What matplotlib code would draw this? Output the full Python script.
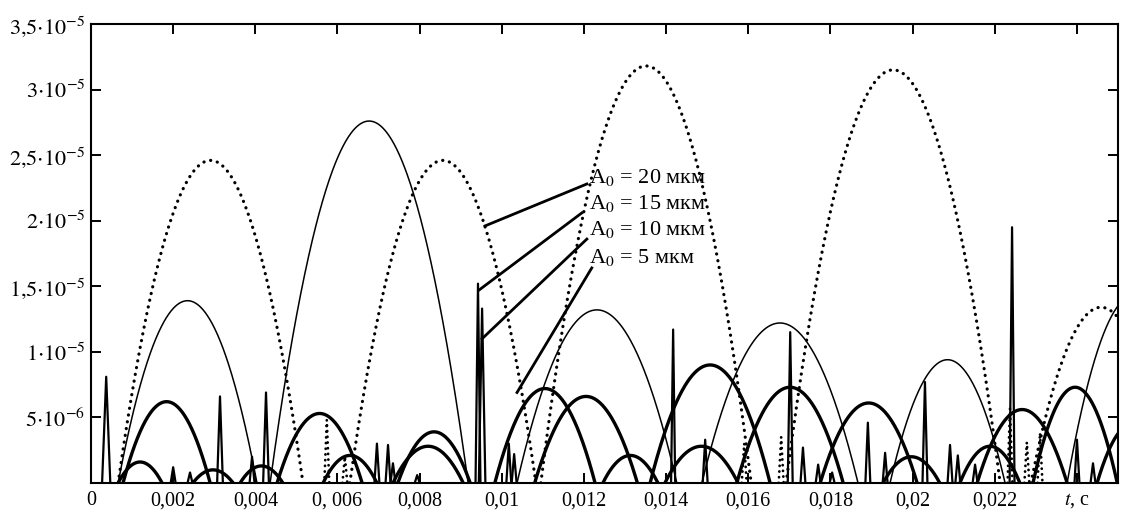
import numpy as np
import matplotlib
matplotlib.use("Agg")
import matplotlib.pyplot as plt

plt.rcParams['font.family'] = ['Liberation Serif', 'DejaVu Serif']
plt.rcParams['mathtext.fontset'] = 'stix'

# arches of the particle flight: (start, end, peak height), t in s, height in m
arch_20 = [(0.00066, 0.00516, 2.46e-5), (0.00630, 0.01083, 2.46e-5),
           (0.01095, 0.01607, 3.18e-5), (0.01692, 0.02213, 3.15e-5),
           (0.02288, 0.02629, 1.34e-5)]
arch_15 = [(0.00066, 0.00404, 1.39e-5), (0.00436, 0.00918, 2.76e-5),
           (0.01037, 0.01426, 1.32e-5), (0.01487, 0.01867, 1.22e-5),
           (0.01945, 0.02225, 9.4e-6), (0.02376, 0.02700, 1.43e-5)]
arch_10 = [(0.00078, 0.00290, 6.2e-6), (0.00453, 0.00660, 5.3e-6),
           (0.00747, 0.00923, 3.9e-6), (0.00983, 0.01227, 7.2e-6),
           (0.01361, 0.01653, 9.0e-6), (0.01572, 0.01831, 7.3e-6),
           (0.01775, 0.02011, 6.1e-6), (0.02157, 0.02376, 5.6e-6),
           (0.02293, 0.02498, 7.3e-6), (0.02449, 0.02620, 4.5e-6)]
arch_5 = [(0.00066, 0.00173, 1.6e-6), (0.00248, 0.00346, 1.0e-6),
          (0.00363, 0.00467, 1.3e-6), (0.00565, 0.00696, 2.1e-6),
          (0.00735, 0.00906, 2.8e-6), (0.01080, 0.01330, 6.6e-6),
          (0.01246, 0.01380, 2.1e-6), (0.01397, 0.01575, 2.8e-6),
          (0.01928, 0.02066, 2.0e-6), (0.02115, 0.02261, 2.8e-6)]

# impact spikes: (t, height, half width)
spikes = [(0.00037, 8.1e-6, 0.00010), (0.00200, 1.2e-6, 0.00006),
          (0.00241, 0.8e-6, 0.00006), (0.00314, 6.6e-6, 0.00007),
          (0.00392, 2.0e-6, 0.00006), (0.00426, 6.9e-6, 0.00007),
          (0.00696, 3.0e-6, 0.00006), (0.00723, 2.9e-6, 0.00006),
          (0.00735, 1.5e-6, 0.00006), (0.00794, 0.6e-6, 0.00006),
          (0.00942, 1.52e-5, 0.00006), (0.00952, 1.33e-5, 0.00008),
          (0.01017, 3.0e-6, 0.00006), (0.01030, 2.2e-6, 0.00006),
          (0.01417, 1.17e-5, 0.00005), (0.01495, 3.3e-6, 0.00006),
          (0.01702, 1.15e-5, 0.00006), (0.01733, 2.7e-6, 0.00006),
          (0.01770, 1.4e-6, 0.00006), (0.01804, 0.8e-6, 0.00006),
          (0.01891, 4.6e-6, 0.00006), (0.01933, 2.3e-6, 0.00006),
          (0.02030, 7.7e-6, 0.00006), (0.02091, 2.9e-6, 0.00006),
          (0.02110, 2.1e-6, 0.00006), (0.02152, 1.4e-6, 0.00006),
          (0.02242, 1.95e-5, 0.00006), (0.02400, 3.3e-6, 0.00006),
          (0.02439, 1.5e-6, 0.00006)]
spikes_20 = [(0.00574, 4.8e-6), (0.00618, 2.0e-6), (0.01590, 3.0e-6),
             (0.01680, 3.5e-6), (0.02237, 5.7e-6), (0.02278, 3.1e-6),
             (0.02310, 3.8e-6)]

x_ticks = np.arange(0, 0.0245, 0.002)
x_labels = ["0", "0,002", "0,004", "0, 006", "0,008", "0,01", "0,012",
            "0,014", "0,016", "0,018", "0,02", "0,022", "$t$, c"]
y_ticks = [5e-6, 1e-5, 1.5e-5, 2e-5, 2.5e-5, 3e-5, 3.5e-5]
y_labels = [r"$5{\cdot}10^{-6}$", r"$1{\cdot}10^{-5}$", r"$1{,}5{\cdot}10^{-5}$",
            r"$2{\cdot}10^{-5}$", r"$2{,}5{\cdot}10^{-5}$", r"$3{\cdot}10^{-5}$",
            r"$3{,}5{\cdot}10^{-5}$"]
amplitudes = ["20", "15", "10", "5"]


def arch(t0, t1, h):
    t = np.linspace(t0, t1, 300)
    return t, 4 * h * (t - t0) * (t1 - t) / (t1 - t0) ** 2


fig = plt.figure(figsize=(11.29, 5.16), dpi=100)
ax = fig.add_axes([0.0806, 0.064, 0.9097, 0.8895])

for a in arch_20:
    t, y = arch(*a)
    ax.plot(t, y, color='k', lw=2.3, linestyle=(0, (0.05, 2.1)),
            dash_capstyle='round')
for a in arch_15:
    t, y = arch(*a)
    ax.plot(t, y, color='k', lw=1.1)
for a in arch_10 + arch_5:
    t, y = arch(*a)
    ax.plot(t, y, color='k', lw=2.4)

for s, h, w in spikes:
    ax.plot([s - w, s, s + w], [0, h, 0], color='k', lw=1.6)
w = 0.00006
for s, h in spikes_20:
    ax.plot([s - w, s, s + w], [0, h, 0], color='k', lw=2.0,
            linestyle=(0, (0.05, 2.0)), dash_capstyle='round')

ax.set_xlim(0, 0.025)
ax.set_ylim(0, 3.5e-5)
ax.set_xticks(x_ticks)
ax.set_xticklabels(x_labels, fontsize=14.5)
ax.set_yticks(y_ticks)
ax.set_yticklabels(y_labels, fontsize=16)
ax.tick_params(direction='in', length=7, width=1.4, top=True, right=True,
               pad=6)
ax.tick_params(axis='y', pad=4)
for sp in ax.spines.values():
    sp.set_linewidth(1.5)

# labels with leader lines
label_pos = [(0.01213, 2.33e-5), (0.01213, 2.13e-5), (0.01213, 1.93e-5),
             (0.01213, 1.72e-5)]
targets = [(0.00959, 1.96e-5), (0.00944, 1.47e-5), (0.00952, 1.10e-5),
           (0.01037, 6.9e-6)]
starts = [(0.01207, 2.28e-5), (0.01195, 2.06e-5), (0.01207, 1.86e-5),
          (0.01219, 1.64e-5)]
for amp, (lx, ly), (sx, sy), (ex, ey) in zip(amplitudes, label_pos, starts, targets):
    ax.text(lx, ly, "A$_0$ = " + amp + " мкм", fontsize=16, va='center',
            ha='left')
    ax.plot([sx, ex], [sy, ey], color='k', lw=2.0)

fig.savefig("out.png", dpi=100)
